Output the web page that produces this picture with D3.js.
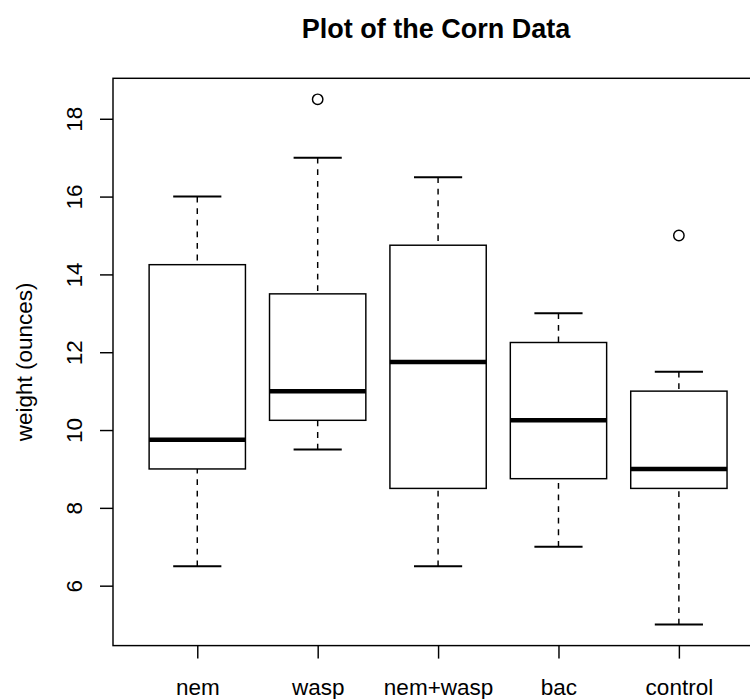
<!DOCTYPE html>
<html>
<head>
<meta charset="utf-8">
<script src="https://cdn.jsdelivr.net/npm/d3@7"></script>
<style>
  html, body { margin: 0; padding: 0; background: #fff; overflow: hidden; }
  svg { display: block; }
  text { font-family: "Liberation Sans", Arial, Helvetica, sans-serif; fill: #000; }
</style>
</head>
<body>
<svg id="chart" width="750" height="699"></svg>
<script>
// Corn weight by treatment: five-number summaries and outliers
const groups       = ["nem", "wasp", "nem+wasp", "bac", "control"];
const whiskerLow   = [6.5, 9.5, 6.5, 7.0, 5.0];
const lowerQuart   = [9.0, 10.25, 8.5, 8.75, 8.5];
const medians      = [9.75, 11.0, 11.75, 10.25, 9.0];
const upperQuart   = [14.25, 13.5, 14.75, 12.25, 11.0];
const whiskerHigh  = [16.0, 17.0, 16.5, 13.0, 11.5];
const outliers     = [[], [18.5], [], [], [15.0]];
const yTickValues  = [6, 8, 10, 12, 14, 16, 18];

const titleText = "Plot of the Corn Data";
const yLabel = "weight (ounces)";

const svg = d3.select("#chart");
const plotLeft = 113, plotTop = 78.3, plotBottom = 645.6, unit = 120.4;
const plotRight = plotLeft + 5.4 * unit;

const fontSize = 22.5;
const lwd = 1.45;

// group positions 1..n, with the usual 4% padding around 0.5..n+0.5
const x = d3.scaleLinear().domain([0.3, groups.length + 0.7]).range([plotLeft, plotRight]);

const allVals = whiskerLow.concat(whiskerHigh, outliers.flat());
const [lo, hi] = d3.extent(allVals);
const pad = (hi - lo) * 0.04;
const y = d3.scaleLinear().domain([lo - pad, hi + pad]).range([plotBottom, plotTop]);

const boxHalf = 0.4, stapleHalf = 0.2;

const data = groups.map((g, i) => ({
  g, pos: i + 1,
  lo: whiskerLow[i], q1: lowerQuart[i], med: medians[i],
  q3: upperQuart[i], hi: whiskerHigh[i], out: outliers[i]
}));

const plot = svg.append("g");

const boxes = plot.selectAll("g.box").data(data).join("g").attr("class", "box");

// whiskers, drawn from the staple toward the box
boxes.append("line")
  .attr("x1", d => x(d.pos)).attr("x2", d => x(d.pos))
  .attr("y1", d => y(d.lo)).attr("y2", d => y(d.q1))
  .attr("stroke", "#000").attr("stroke-width", lwd)
  .attr("stroke-dasharray", "5.8,5.8");
boxes.append("line")
  .attr("x1", d => x(d.pos)).attr("x2", d => x(d.pos))
  .attr("y1", d => y(d.hi)).attr("y2", d => y(d.q3))
  .attr("stroke", "#000").attr("stroke-width", lwd)
  .attr("stroke-dasharray", "5.8,5.8");

// staples
["lo", "hi"].forEach(k => {
  boxes.append("line")
    .attr("x1", d => x(d.pos - stapleHalf)).attr("x2", d => x(d.pos + stapleHalf))
    .attr("y1", d => y(d[k])).attr("y2", d => y(d[k]))
    .attr("stroke", "#000").attr("stroke-width", 2);
});

// boxes
boxes.append("rect")
  .attr("x", d => x(d.pos - boxHalf))
  .attr("width", d => x(d.pos + boxHalf) - x(d.pos - boxHalf))
  .attr("y", d => y(d.q3))
  .attr("height", d => y(d.q1) - y(d.q3))
  .attr("fill", "#fff").attr("stroke", "#000").attr("stroke-width", lwd);

// medians
boxes.append("line")
  .attr("x1", d => x(d.pos - boxHalf)).attr("x2", d => x(d.pos + boxHalf))
  .attr("y1", d => y(d.med)).attr("y2", d => y(d.med))
  .attr("stroke", "#000").attr("stroke-width", 4.5);

// outliers
boxes.selectAll("circle")
  .data(d => d.out.map(v => ({ pos: d.pos, v })))
  .join("circle")
  .attr("cx", d => x(d.pos)).attr("cy", d => y(d.v))
  .attr("r", 5.2)
  .attr("fill", "none").attr("stroke", "#000").attr("stroke-width", lwd);

// plot frame
svg.append("rect")
  .attr("x", plotLeft).attr("y", plotTop)
  .attr("width", plotRight - plotLeft).attr("height", plotBottom - plotTop)
  .attr("fill", "none").attr("stroke", "#000").attr("stroke-width", lwd);

// x axis
const xAxis = svg.append("g")
  .attr("transform", `translate(0,${plotBottom})`)
  .call(d3.axisBottom(x)
    .tickValues(groups.map((g, i) => i + 1))
    .tickFormat((d, i) => groups[i])
    .tickSize(13).tickSizeOuter(0));
xAxis.select(".domain").remove();
xAxis.selectAll(".tick line").attr("stroke", "#000").attr("stroke-width", lwd);
xAxis.selectAll(".tick text")
  .attr("y", 49.5).attr("dy", null)
  .style("font-size", fontSize + "px")
  .attr("fill", "#000");

// y axis
const yAxis = svg.append("g")
  .attr("transform", `translate(${plotLeft},0)`)
  .call(d3.axisLeft(y).tickValues(yTickValues).tickSize(13).tickSizeOuter(0));
yAxis.select(".domain").remove();
yAxis.selectAll(".tick line").attr("stroke", "#000").attr("stroke-width", lwd);
yAxis.selectAll(".tick text")
  .attr("x", null).attr("dy", null)
  .attr("text-anchor", "middle")
  .attr("transform", "translate(-31,0) rotate(-90)")
  .style("font-size", fontSize + "px")
  .attr("fill", "#000");

// y axis title
svg.append("text")
  .attr("transform", `translate(32,${(plotTop + plotBottom) / 2}) rotate(-90)`)
  .attr("text-anchor", "middle")
  .style("font-size", fontSize + "px")
  .text(yLabel);

// main title
svg.append("text")
  .attr("x", (plotLeft + plotRight) / 2 - 2).attr("y", 37.5)
  .attr("text-anchor", "middle")
  .style("font-size", (fontSize * 1.2) + "px")
  .style("font-weight", "bold")
  .text(titleText);
</script>
</body>
</html>
